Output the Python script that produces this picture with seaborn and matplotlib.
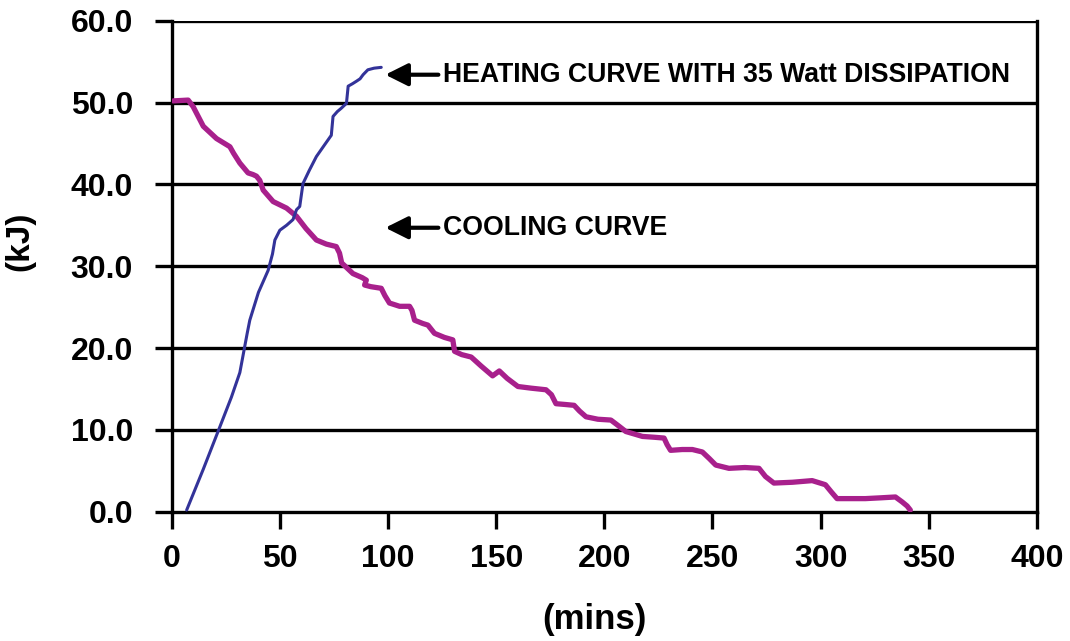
import pandas as pd
import seaborn as sns
import matplotlib.pyplot as plt

# heating curve (35 W dissipation)
heat_mins = [6.8, 14.5, 22.2, 27.5, 31.4, 34.8, 36.0, 40.0, 44.5, 46.5, 47.6, 49.9, 53.0,
             56.0, 57.6, 59.1, 60.6, 63.5, 66.8, 70.5, 73.7, 74.5, 76.5, 78.3, 80.7,
             81.5, 83.5, 85.3, 87.0, 88.4, 90.6, 93.5, 96.8]
heat_kj = [0.2, 5.2, 10.4, 14.0, 17.0, 21.8, 23.4, 26.8, 29.5, 31.5, 33.2, 34.4, 35.0,
           35.7, 36.9, 37.3, 40.1, 41.7, 43.4, 44.8, 46.0, 48.3, 48.9, 49.3, 49.9,
           52.0, 52.3, 52.6, 52.9, 53.4, 54.0, 54.2, 54.3]

# cooling curve
cool_mins = [0.6, 7.5, 9.8, 14.5, 20.6, 26.8, 28.5, 31.4, 35.2, 37.5, 39.1, 40.6, 42.2,
             46.8, 53.0, 57.6, 62.0, 66.8, 71.4, 76.0, 77.5, 78.5, 83.7, 88.0, 89.9,
             89.1, 92.0, 96.8, 98.5, 100.6, 105.3, 109.9, 111.0, 112.2, 116.0, 118.4,
             121.4, 126.0, 129.9, 130.7, 134.0, 138.4, 143.0, 148.3, 151.4, 155.0,
             160.0, 166.0, 173.0, 175.5, 177.6, 182.0, 186.0, 188.5, 191.5, 197.0,
             203.0, 206.5, 209.9, 217.6, 223.0, 227.6, 229.0, 230.6, 236.0, 240.7,
             245.3, 248.5, 251.5, 257.6, 265.0, 271.5, 274.5, 278.4, 287.0, 296.1,
             302.2, 305.0, 307.6, 314.0, 320.7, 328.0, 334.6, 337.7, 340.0, 341.5]
cool_kj = [50.2, 50.3, 49.5, 47.1, 45.6, 44.6, 43.8, 42.6, 41.4, 41.2, 41.0, 40.5, 39.3,
           37.9, 37.1, 36.1, 34.6, 33.2, 32.7, 32.4, 31.6, 30.4, 29.1, 28.6, 28.3,
           27.7, 27.5, 27.3, 26.4, 25.5, 25.1, 25.1, 24.6, 23.4, 23.0, 22.8,
           21.8, 21.3, 21.0, 19.6, 19.2, 18.9, 17.8, 16.6, 17.2, 16.3,
           15.3, 15.1, 14.9, 14.3, 13.2, 13.1, 13.0, 12.3, 11.6, 11.3,
           11.2, 10.5, 9.8, 9.2, 9.1, 9.0, 8.2, 7.5, 7.6, 7.6,
           7.3, 6.5, 5.7, 5.3, 5.4, 5.3, 4.3, 3.5, 3.6, 3.8,
           3.3, 2.4, 1.6, 1.6, 1.6, 1.7, 1.8, 1.2, 0.7, 0.2]

x_ticks = [0, 50, 100, 150, 200, 250, 300, 350, 400]
y_ticks = [0, 10, 20, 30, 40, 50, 60]

heat = pd.DataFrame({"mins": heat_mins, "kJ": heat_kj})
cool = pd.DataFrame({"mins": cool_mins, "kJ": cool_kj})

sns.set_style("white")
plt.rcParams['font.family'] = ['Liberation Sans', 'DejaVu Sans']
plt.rcParams['font.weight'] = 'bold'
plt.rcParams['text.color'] = 'black'
plt.rcParams['axes.labelcolor'] = 'black'
plt.rcParams['xtick.color'] = 'black'
plt.rcParams['ytick.color'] = 'black'

fig = plt.figure(figsize=(10.7, 6.41), dpi=100)
ax = fig.add_axes([0.1607, 0.2017, 0.8083, 0.766])

for y in y_ticks[1:]:
    ax.axhline(y, color='black', lw=2.4, zorder=1)

sns.lineplot(data=cool, x="mins", y="kJ", ax=ax, color='#A8208C', lw=3.8,
             sort=False, estimator=None, zorder=3, solid_joinstyle='round')
sns.lineplot(data=heat, x="mins", y="kJ", ax=ax, color='#333399', lw=2.2,
             sort=False, estimator=None, zorder=4, solid_joinstyle='round')

ax.set_xlim(0, 400)
ax.set_ylim(0, 60)
ax.set_xticks(x_ticks)
ax.set_yticks(y_ticks)
ax.set_yticklabels([f"{v:.1f}" for v in y_ticks])
ax.tick_params(axis='both', direction='out', length=12, width=2.4, color='black',
               labelsize=23, bottom=True, left=True, labelcolor='black')
ax.tick_params(axis='x', pad=11)
ax.tick_params(axis='y', pad=16)
for lab in ax.get_xticklabels() + ax.get_yticklabels():
    lab.set_fontweight('bold')

for side in ['left', 'bottom', 'right']:
    ax.spines[side].set_visible(True)
    ax.spines[side].set_color('black')
    ax.spines[side].set_linewidth(2.4)
ax.spines['top'].set_visible(False)

ax.set_xlabel("(mins)", fontsize=25, fontweight='bold')
ax.set_ylabel("(kJ)", fontsize=24, fontweight='bold')
ax.xaxis.set_label_coords(0.488, -0.186)
ax.yaxis.set_label_coords(-0.158, 0.551)

arrow = dict(arrowstyle='-|>', color='black', lw=3, mutation_scale=34)
ax.annotate("", xy=(97.4, 53.4), xytext=(124.5, 53.4), arrowprops=arrow)
ax.text(125.5, 53.4, "HEATING CURVE WITH 35 Watt DISSIPATION", fontsize=19.2,
        fontweight='bold', va='center', ha='left')
ax.annotate("", xy=(97.4, 34.7), xytext=(124.5, 34.7), arrowprops=arrow)
ax.text(125.5, 34.7, "COOLING CURVE", fontsize=19.2, fontweight='bold',
        va='center', ha='left')

fig.savefig("out.png", dpi=100)
